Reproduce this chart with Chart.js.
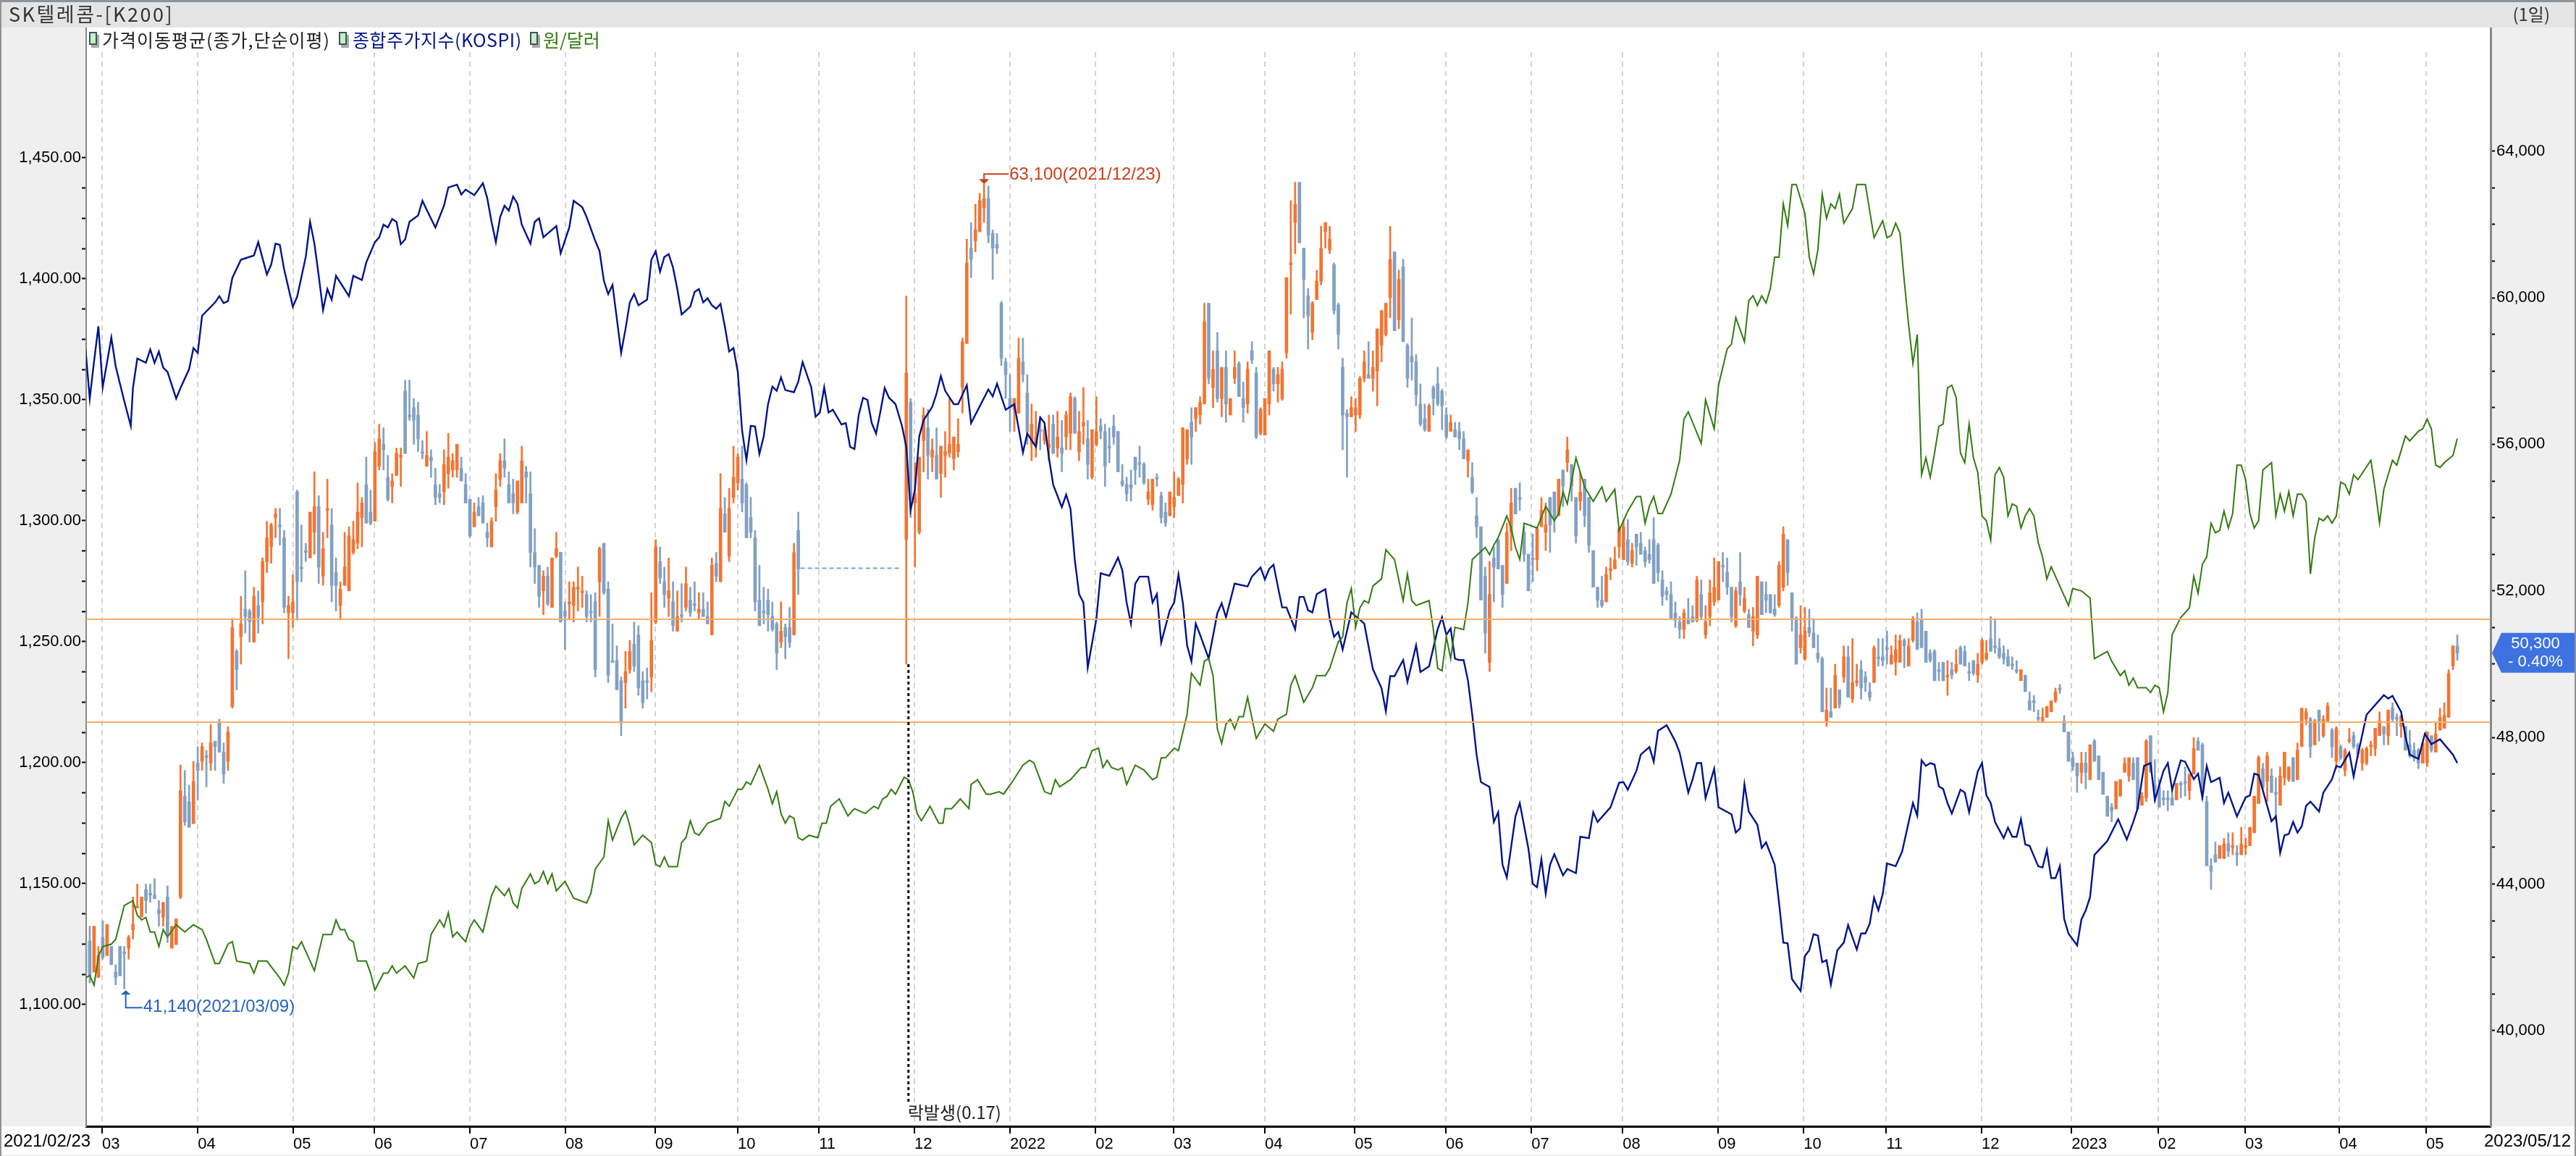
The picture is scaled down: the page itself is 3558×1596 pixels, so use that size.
<!DOCTYPE html>
<html>
<head>
<meta charset="utf-8">
<title>SK텔레콤</title>
<script src="https://cdn.jsdelivr.net/npm/chart.js@4/dist/chart.umd.js"></script>
<style>
html, body { margin: 0; background: #fff; }
canvas { display: block; }
</style>
</head>
<body>
<canvas id="chart" width="3558" height="1596"></canvas>
<script>
// month gridlines, in trading-day index
const monthTicks = [3.85,26,48.1,66.9,89,111.1,131.9,151,169.8,191.9,214,233.8,251.9,273,293.8,314.9,334.7,355.8,377.9,397.7,416.8,438.9,459.7,479.8,499.9,521.7,541.8];
const monthLabels = ["03","04","05","06","07","08","09","10","11","12","2022","02","03","04","05","06","07","08","09","10","11","12","2023","02","03","04","05"];
const firstDate = "2021/02/23";
const lastDate = "2023/05/12";
const usdTicks = [1100,1112.5,1125,1137.5,1150,1162.5,1175,1187.5,1200,1212.5,1225,1237.5,1250,1262.5,1275,1287.5,1300,1312.5,1325,1337.5,1350,1362.5,1375,1387.5,1400,1412.5,1425,1437.5,1450];
const priceTicks = [40000,41000,42000,43000,44000,45000,46000,47000,48000,49000,50000,51000,52000,53000,54000,55000,56000,57000,58000,59000,60000,61000,62000,63000,64000];

// daily candles, won, ten per row (null = trading halted)
const high = [
42450,42850,42850,42300,43000,42900,42300,41800,42300,42300,
42600,43650,44000,43650,44000,44000,44150,43550,43500,43950,
42850,43050,47250,47100,46700,47350,47750,47850,47650,48350,
47900,48500,47850,48300,51250,50400,51850,52550,51500,52100,
52000,52900,53900,53850,54250,54250,53650,51850,52450,54750,
53800,53300,54150,55250,54600,53600,55050,54250,52900,52250,
53600,53750,53900,54950,54550,55650,54750,56050,56550,56450,
55700,55200,55900,55900,57750,57750,57250,57150,56100,56350,
55850,55350,54900,55850,56300,55750,56000,55650,55200,54500,
54400,54550,54600,53850,54000,55200,55750,56150,55250,55050,
55000,55950,55400,55250,53700,52700,52550,52650,52900,53600,
53050,51700,52250,52250,52650,52400,52000,51900,51950,53200,
53300,52250,51100,50500,49650,50350,50650,51150,51050,49800,
49900,51950,53400,53200,52650,52900,52250,52000,52200,52650,
52100,52250,51950,51950,51700,52900,53050,55200,54550,54800,
55950,55750,55950,54950,54550,53650,52700,52100,52050,51700,
51150,51700,51100,51550,53300,54150,null,null,null,null,
null,null,null,null,null,null,null,null,null,null,
null,null,null,null,null,null,null,null,null,null,
60050,57250,55500,55650,57000,56950,56150,56450,55950,56350,
57250,56200,56700,58900,61600,62050,62550,62850,63100,63050,
61850,61750,59900,58350,57900,57250,58900,58900,57900,57100,
56900,56750,56500,56800,56800,56900,56650,56900,57400,57300,
56900,57550,56650,56400,57300,56700,56550,56450,56800,56350,
55450,55100,55300,55650,55950,55500,55050,55050,55200,54700,
54400,54700,55250,55100,56450,56400,57000,57000,57300,59850,
59850,58550,59050,58100,58550,57250,58550,58250,57700,58250,
58800,58100,57000,57250,58550,58100,58100,58250,60550,62650,
63150,63150,61350,60250,59900,60750,61950,62050,61950,60950,
59850,58350,56950,57300,57250,57850,58550,58800,58550,59150,
59650,59850,61950,61250,60750,61050,58750,59450,58450,57650,
57100,57100,57600,58100,57500,57000,56800,56600,56600,56350,
55850,55500,54550,53750,52650,52800,53200,53400,52700,53850,
54800,54800,54950,53750,53000,53550,53750,54550,54400,54550,
54700,55050,55300,56200,55450,54550,55250,55050,54550,53100,
52100,52400,52650,52900,53200,53750,53950,53950,53300,53550,
53600,53200,53400,54000,53300,52550,52100,52250,51700,51300,
51500,51800,51600,52400,52300,51600,52300,52900,52800,53050,
52900,52100,52100,53050,52100,51500,51550,52400,52250,52250,
51900,51900,52800,53750,53400,51950,51300,51600,51550,51500,
51250,50800,50200,49350,49350,50000,49300,50500,50500,50700,
50000,50100,49800,49500,50500,50700,50700,50900,50500,50800,
50800,50700,50700,51300,51400,51500,50900,50400,50400,50050,
50050,50100,50050,50400,50500,50500,50050,50100,50300,50700,
50650,51300,51250,50700,50500,50400,50200,50100,49850,49700,
49250,49150,48750,48800,48850,49000,49350,49450,48600,48150,
47600,47300,47600,47600,47800,47950,47500,47050,46400,46200,
46800,46850,47450,47450,47450,47450,46500,47950,48050,47400,
46850,46550,46550,46600,46750,46800,47200,47000,48000,48000,
47850,46400,44700,45150,45050,45250,45400,45400,45050,45550,
45250,45550,46400,47500,47300,47600,47150,46900,47200,47600,
47200,47450,47850,48800,48800,48550,48500,48750,48600,48950,
48250,48300,47800,47700,48250,48150,47850,47700,47750,47900,
48250,48700,48300,48750,48950,48650,48600,48300,48200,47850,
47700,47850,48150,48050,48400,48800,48950,49850,50500,50800
];
const low = [
41600,41300,41600,41450,41950,42050,41800,41250,41500,41140,
41950,42500,43350,43100,43200,43500,43600,42850,42850,42400,
42250,42350,43600,45600,45550,45650,46300,47100,46650,47100,
47100,47600,46750,47100,48800,49300,50000,50850,50600,50600,
50850,51100,52500,52750,53450,53250,51400,50150,51000,51200,
52250,52800,52900,53000,52200,52150,53450,51700,51450,51200,
52150,52000,53000,53150,53200,53850,53800,53900,55300,55300,
54450,54400,55150,54850,55750,56650,56000,55800,55600,55400,
55100,54350,54400,54350,54800,55100,55100,55000,54400,53450,
53750,54050,53850,53200,53200,53900,54850,55100,54400,54100,
54100,54400,54400,52650,52200,51550,51350,51600,51550,52900,
51150,50400,51250,51150,51450,51550,51150,51150,49650,51300,
51900,49500,50050,49300,48050,48800,49750,49800,49150,48800,
49050,49250,51100,52200,51550,51300,50900,50900,51150,51450,
51300,51450,51250,51300,51100,50800,52250,52250,53600,52800,
54400,54750,54150,53450,53450,51450,51050,51100,50900,50900,
49850,50450,50150,50450,50800,51900,null,null,null,null,
null,null,null,null,null,null,null,null,null,null,
null,null,null,null,null,null,null,null,null,null,
50000,54000,52650,53550,55250,55050,55250,55050,54550,55100,
55650,55300,55650,56850,58750,60550,61250,61800,62050,61500,
60500,61200,58150,57250,56350,56350,56850,57700,56000,55550,
55650,55850,56000,55550,55750,55650,55250,55850,55850,56300,
55550,56000,55050,55050,55950,56150,54850,55500,56000,55250,
54850,54450,54450,54900,55100,54900,54350,54200,54850,53850,
53750,54050,54000,54600,54400,55450,55450,56350,56550,57100,
57650,57000,57150,56750,56600,56800,57650,57300,56600,56850,
58200,56150,56250,56250,56800,57450,57150,57200,58350,59550,
61200,61500,59450,58600,58850,59950,60350,61350,61200,59550,
58600,55850,55100,56750,56350,56700,57700,57800,57450,57050,
58250,58950,59450,59100,59150,58800,57550,57750,57050,56500,
56350,56350,56800,57050,56400,56150,56350,56200,55850,55600,
55100,54650,53450,51750,50300,49800,51700,52600,51550,52200,
53100,54100,54200,52800,52000,52250,52550,53750,53100,53050,
53600,54050,54300,55250,54450,53300,54200,53750,53050,52100,
51550,51550,51700,52300,52600,52900,52850,52700,52650,52700,
53000,52650,52750,52200,52250,51600,51750,51250,51000,50700,
50700,51100,51150,51150,51250,50700,51050,51600,51750,52250,
51900,51150,51000,51600,51400,51000,50500,50700,51350,51400,
51400,51300,51550,52000,52150,50900,50000,50300,50100,50750,
50450,50050,48700,48300,48550,48800,48800,49500,49100,48950,
49400,49050,49250,49000,49500,49950,49950,50000,50000,49700,
50050,49900,50100,50600,50400,50450,50050,50050,49550,49550,
49550,49150,49600,49750,50000,50000,49550,49700,49500,50000,
50100,50350,50300,50150,50000,49950,49850,49750,49550,49250,
48750,48700,48450,48450,48550,48700,48950,49200,48150,47350,
47100,46500,46750,46600,46850,47350,46850,46450,45850,45700,
46050,46400,47050,46800,46850,46050,46150,46250,47050,46250,
46100,46150,46000,46150,46300,46350,46400,46300,47000,47650,
46300,44500,43850,44600,44700,44700,44750,44800,44500,44800,
44800,45050,45400,46200,46600,46250,46500,45750,46150,46700,
46800,46800,46850,47750,48350,47450,47800,47900,48000,48450,
47450,47150,47400,46950,47850,47700,47450,47100,47250,47500,
47500,48050,47800,47800,48450,48050,48000,47650,47450,47350,
47150,47300,47200,47600,47600,48200,48250,48550,49850,50100
];
const open = [
42450,42450,41600,41450,42550,42050,42300,41600,42300,42150,
42250,42750,43350,43100,43850,43750,43700,43300,43100,43650,
42250,42350,43650,46400,46250,45650,47300,47350,47500,47300,
47900,48400,47600,47350,48850,50350,50750,51500,51450,50600,
51600,51700,52800,53200,54000,53800,53450,51400,51400,54700,
52650,53100,52900,53600,54300,52400,54200,53800,52500,51600,
52150,52000,53050,53300,54000,54900,54150,53900,55400,56000,
55100,54850,55150,55650,57450,56800,57000,56800,55800,55400,
55650,54900,54650,54700,55200,55300,55300,55350,54900,54500,
53750,54300,54400,53600,53200,54300,55050,55550,54900,54650,
54150,54400,55250,54650,53050,52700,52000,52400,51550,52950,
53050,51450,51650,51600,52050,51950,51900,51450,51700,52250,
53300,52050,50100,50100,49550,49500,49850,50550,50800,49550,
49550,49650,51150,52800,52250,51800,51700,50900,51350,51550,
51750,51650,51400,51500,51300,50800,52750,52250,54100,52950,
54550,54950,55050,54900,54000,53450,51750,51450,51750,51300,
51100,50600,51000,51000,50800,53650,null,null,null,null,
null,null,null,null,null,null,null,null,null,null,
null,null,null,null,null,null,null,null,null,null,
53400,57150,54400,53600,56100,56450,55650,55700,55200,55700,
55750,55600,55800,57550,58750,61350,61550,61800,62450,62700,
61750,61450,59850,58250,57250,56950,56850,58250,57400,56000,
56000,56400,56100,55900,56550,55900,55900,56200,56300,57250,
55800,56500,56150,55100,56000,56500,56350,55950,56500,56350,
55000,54900,54900,55650,55500,55450,54500,54350,55100,54600,
54150,54050,54300,54600,54900,55600,56600,56700,56800,57100,
59850,57550,58550,57250,58100,56800,57800,58200,57250,57100,
58550,57950,56300,56250,57100,58050,57650,57250,58500,60900,
62050,63150,61350,60050,59050,59950,60450,61800,61300,60900,
59800,58100,56850,56750,56800,56800,57800,57900,57800,58000,
58700,59000,60000,61250,59400,60850,58700,58400,58250,57100,
56700,56350,57550,57650,57450,56800,56350,56400,56350,56150,
55550,55100,54050,53750,52400,50050,52900,53400,52700,52200,
53600,54800,54550,53600,53000,52900,52850,53750,53600,54550,
54700,54050,55300,55500,55450,54550,54450,55050,54550,53100,
52100,51750,51700,52550,52600,53200,52850,53400,52750,53550,
53300,53100,53000,53400,53250,52300,52000,51900,51400,51150,
50950,51250,51300,51200,51900,50800,51300,51700,51750,52700,
52500,52100,51050,52250,51450,51350,50900,50800,52250,51900,
51900,51500,51600,52100,53400,51950,51250,50450,50150,51000,
50850,50300,50150,48450,48700,48800,49300,49650,50200,49050,
49500,49850,49650,49250,49500,50200,50200,50450,50000,50050,
50050,50650,49950,50650,51150,51200,50900,50300,50350,49850,
50050,49650,49850,49800,50450,50350,49800,50100,49700,50050,
50150,50700,50500,50450,50300,50200,50000,49850,49550,49700,
49000,49000,48550,48450,48550,48700,49000,49350,48450,48150,
47450,47300,47050,47300,46850,47900,47500,47050,46400,46100,
46050,46400,47050,46950,47300,47450,46150,46350,48050,46700,
46650,46350,46350,46350,46300,46750,46800,46550,47000,47900,
47800,46250,44500,44800,44700,44700,45100,45000,44850,44800,
45000,45050,45400,46200,47150,46800,46950,46500,46150,46900,
46850,47450,46850,47750,48500,48500,47800,48750,48050,48450,
48200,47350,47750,47100,47900,48050,47800,47300,47300,47750,
47700,48050,48300,48050,48800,48550,48300,48300,47800,47650,
47650,47300,47300,48050,47600,48200,48250,48550,49950,50500
];
const close = [
41600,41500,42850,42050,42000,42900,41800,41450,41500,42100,
42550,42900,43400,43650,43550,43700,43600,43200,43500,42600,
42850,43050,46550,45700,45550,46800,47100,47750,47450,47850,
47750,47600,47000,48150,51000,49850,51100,51300,51150,51850,
51300,52800,53450,53800,54100,53750,51550,51600,51700,52250,
52600,53050,54150,54300,52650,53150,54250,52150,52150,52050,
52650,53500,53400,54150,54400,53850,53850,55800,56150,55850,
54500,55000,55750,55700,55750,56750,56650,56150,55750,55700,
55550,54550,54550,55450,55650,55550,56000,55000,54400,53500,
54150,54050,53850,53450,53900,54750,55550,55350,54400,54400,
55000,55550,55100,53050,52650,51850,52400,51650,52900,53150,
51150,51300,51700,52100,52100,52000,51300,51400,49850,53150,
51950,49700,50050,49300,48400,49800,50350,49950,49350,48950,
49500,50650,53200,52350,51900,52000,51050,51300,51300,52200,
51400,51600,51500,51300,51100,52700,52400,54250,53600,54250,
55100,55650,54400,53450,53600,51700,51050,51400,51350,50950,
50300,50900,50750,50600,53050,52600,null,null,null,null,
null,null,null,null,null,null,null,null,null,null,
null,null,null,null,null,null,null,null,null,null,
57950,54500,54650,55650,56800,55700,55850,55050,55950,55800,
56000,56200,56000,58800,60950,61050,61850,62650,62700,61700,
61350,61350,58350,57900,57000,57250,58350,57900,56350,56550,
56200,56350,56400,56000,55750,56200,55750,56800,57300,56300,
56350,56600,55450,56400,56350,56350,55400,55900,56200,55250,
54900,54650,54800,55300,55450,54950,54700,55050,55050,54000,
53850,54700,54550,55050,56450,56400,56200,57000,57150,59350,
57800,58050,57250,58100,57100,57250,58100,57300,57000,58050,
58300,56200,56950,57250,58550,57650,57900,58050,60550,60950,
62550,61500,60500,59500,59850,60450,61350,62050,61600,59650,
59000,56800,56750,57000,57000,57800,58250,57800,58100,59150,
59650,59850,61050,59100,60500,58800,57800,58250,57350,56550,
56400,57050,57250,57100,57050,56200,56600,56200,56150,55600,
55850,54700,53750,51750,50850,51900,52650,52600,51900,53600,
54400,54100,54500,53000,52000,52850,53700,54200,53800,53800,
54000,55050,54850,55850,54850,53500,54700,54050,53250,52100,
51750,51600,52450,52600,52850,53700,53750,52800,53100,53200,
53000,52800,52850,52200,52500,51850,51900,51250,51200,50950,
51400,51100,51150,52300,51300,51150,51950,52100,52800,52650,
52100,51300,52000,51900,51800,51000,51300,52400,51350,51750,
51400,51350,52700,53550,52500,51250,50000,50800,50900,50850,
50450,50150,48700,48750,48550,49700,48900,50200,49100,49500,
49550,49350,49500,49100,50450,50150,50100,50400,50250,50400,
50650,50500,50500,51250,50400,50450,50050,50100,49550,49800,
49550,49700,49700,50000,50000,49950,49750,49750,50000,50650,
50300,50350,50450,50200,50150,49950,49950,49800,49850,49250,
48750,48950,48500,48550,48850,49000,49250,49300,48150,47350,
47200,46950,47300,47050,47800,47350,46850,46450,45850,46000,
46800,46850,47300,47450,46850,46050,46400,47900,47050,46550,
46100,46300,46300,46150,46750,46700,46750,47000,47700,47650,
46500,44500,44350,44600,45050,45100,44900,45050,44800,45100,
45050,45550,46400,47450,46650,47500,46500,46450,46950,47600,
47200,46800,47650,48800,48700,47750,48450,48400,48500,48850,
47750,48250,47450,47650,47950,47750,47550,47650,47700,47800,
48250,48450,48100,48750,48500,48500,48600,47650,47500,47450,
47300,47850,48150,47650,48100,48550,48600,49750,50500,50300
];
const lowIdx = 9, lowPrice = 41140, lowText = "41,140(2021/03/09)";
const highIdx = 208, highPrice = 63100, highText = "63,100(2021/12/23)";
const lastPrice = 50300, lastChange = "- 0.40%", lastText = "50,300";
const haltDays = [165.5, 189], haltPrice = 52620;
const exIdx = 190, exLow = 50000, exText = "락발생(0.17)";
const priceLines = [51225, 48420];

const kospiDays = [0,1,2,3,4,6,7,9,10.5,11,12,14,15,16,17,18,19,21,22,24,25,26,27,30,31,32,33,34,36,39,40,42,43,44,45,46,48,49,51,52,53,54,55,56,57,58,61,62,64,65,67,68,69,70,71,72,73,74,75,77,78,79,81,83,84,86,87,88,89,90,92,93,94,95,96,97,98,99,100,101,103,104,105,106,109,110,112,113,115,116,118,119,120,121,122,123,124,125,126,127,128,130,131,132,133,134,135,136,137,138,140,141,142,143,144,145,146,147,148,149,150,151,152,153,154,155,156,157,158,159,160,161,162,164,165,166,168,169,170,171,172,173,175,176,177,178,179,180,181,182,183,184,185,186,187.5,189,190,191,192,193,194,196,197,198,199,201,202,204,205,209,210,211,213,215,217,218,220,221,222,223,224,226,227,228,229,230,231,232,234,235,237,239,240,241,242,243,244,246,247,248,249,251,252,253,254,255,256,257,258,260,262,263,264,266,269,270,272,273,274,275,276,277,278,280,281,282,283,284,285,287,288,289,290,291,293,296,298,300,301,302,303,305,306,308,309,311,313,314,315,316,317,318,319,320,321,322,323,325,326,327,328,329,331,332,334,335,336,337,338,339,340,342,343,345,346,348,349,350,353,355,356,357,359,360,362,363,364,366,368,369,371,372,373,374,375,377,378,381,382,383,384,385,387,388,389,391,392,393,394,395,397,398,399,400,401,402,403,404,405.5,407,408,410,411,412,413,414,415,416,417,419,420.5,423,424,425,426,427,428,429,430,431,432,434,435,436,438,439,440,441,442,444,445,446,447,448,449,450,452,453,454,455,456,457,458,459,461,462,463,464,465,468,470.5,472.5,474,475,476.5,478,479,481,482,483,485,486,488,489,490,491,492,494,495,496,498,500,501,502,503,505,506,507,508,509,510,511,512,513,514,515,517,518,520,521,522,524,525,526,528,532,533,534,536,537,538,540,541.5,543,545,548,549];
const kospi = [3071,2999,3052,3102,3015,3086,3045,2995,2960,3014,3056,3050,3069,3050,3066,3043,3037,2999,3014,3041,3071,3064,3117,3136,3145,3135,3138,3171,3197,3203,3222,3176,3190,3220,3218,3183,3130,3144,3201,3251,3220,3174,3125,3155,3140,3174,3145,3174,3168,3193,3222,3229,3247,3243,3255,3251,3219,3226,3251,3260,3281,3268,3243,3274,3300,3304,3290,3297,3293,3289,3306,3285,3251,3222,3258,3274,3267,3287,3277,3247,3220,3251,3256,3229,3245,3206,3243,3281,3272,3258,3224,3209,3167,3148,3161,3113,3064,3098,3136,3148,3132,3140,3197,3209,3180,3201,3205,3186,3155,3119,3130,3151,3155,3136,3142,3132,3127,3134,3102,3066,3071,3037,2953,2911,2960,2959,2920,2945,2991,3016,3010,3029,3011,3008,3023,3051,3015,2973,2979,3015,2979,2983,2962,2964,2930,2927,2976,3000,2997,2964,2949,2980,3014,3000,2991,2960,2930,2840,2869,2945,2968,2987,3006,3031,3010,2991,2991,3018,2964,3012,3002,3020,2983,2991,2922,2949,2930,2972,2964,2915,2876,2844,2862,2842,2769,2720,2708,2615,2685,2750,2746,2772,2754,2708,2678,2735,2745,2745,2708,2720,2651,2697,2708,2748,2708,2647,2624,2678,2662,2628,2693,2707,2687,2735,2731,2745,2758,2741,2756,2762,2731,2701,2701,2670,2716,2716,2697,2694,2720,2727,2685,2659,2666,2641,2694,2678,2613,2586,2553,2603,2603,2626,2595,2647,2609,2617,2670,2687,2662,2671,2628,2626,2626,2597,2548,2491,2452,2445,2395,2409,2334,2316,2403,2422,2357,2307,2302,2342,2293,2334,2349,2319,2328,2322,2374,2372,2409,2395,2416,2451,2452,2441,2468,2491,2502,2481,2525,2533,2510,2494,2437,2456,2479,2479,2429,2471,2416,2406,2380,2386,2449,2410,2391,2358,2366,2334,2280,2223,2222,2171,2154,2204,2212,2235,2233,2195,2198,2163,2212,2223,2248,2213,2236,2236,2250,2287,2269,2292,2336,2332,2353,2422,2404,2483,2475,2479,2477,2446,2442,2422,2407,2441,2437,2409,2467,2479,2433,2422,2395,2372,2387,2374,2374,2399,2363,2361,2332,2330,2355,2315,2315,2332,2257,2236,2219,2256,2269,2288,2348,2368,2399,2370,2395,2414,2475,2479,2426,2468,2479,2441,2483,2481,2456,2464,2430,2475,2452,2458,2422,2437,2403,2430,2433,2464,2462,2418,2396,2403,2351,2376,2378,2395,2380,2389,2418,2424,2410,2437,2456,2475,2473,2494,2460,2491,2548,2576,2571,2575,2552,2517,2491,2485,2521,2506,2513,2491,2479];

const usdDays = [0,1,2,3,4,6,7,9,11,12,13,14,15,16,17,18,19,21,23,25,27,28,30,31,33,34,35,38,39,40,42,45,46,47,48,49,50,53,55,57,58,59,60,61,62,63,65,66,67,69,70,71,72,74,76,77,79,80,82,83,84,85,86,88,89,90,92,94,95,97,98,99,100,101,103,104,105,106,107,108,109,111,113,116,117,118,120,121,122,124,125,126,127,129,131,132,133,134,135,137,138,139,140,141,142,144,147,148,149,151,152,153,154,156,158,159,160,161,162,163,164,165,166,167.5,169.5,170.5,171.5,172.5,174.5,176.5,178,180.5,182.5,183.5,184.5,185.5,186.5,187.5,189.5,190.5,191.5,192.5,193.5,195.5,197.5,198.5,199,200.5,202.5,204.5,205,206.5,208.5,209.5,211.5,212.5,214.5,217,218.5,219.5,221,222,223.5,224.5,225.5,228,230.5,231.5,233,234.5,235.5,236.5,237.5,239,240,241,243,245,247,248,249,250,252,253,255,256,258,259,260,261,262,263,264,265,266,267,268,269,271,273,275,276,278,279,280,282,284,285,287,288,290,291,292,293,294,295,296,297,298,300,301,303,305,306,307,308,311,312,313,314,315,316,317,319,320,321,324,325,326,327,329,330,331,332,333,336,338,340,341,342,343,345,347,349,351,352,354,355,357,359,360,361,362,363,364,365,367,369,370,371,374,375,377,378,380,381,382,384,385,386,387,388,389,390,391,392,393,394,395,396,398,399,400,401,402,403,404,405,406,407,409,410,412,414,416,417,418,419,420,421,422,423,424,425,426,427,428,429,430,431,432,433,434,435,436,437,438,439,440,441,442,443,444,445,446,447,448,449,450,451,452,453,454,455,459,460,462,464,465,468,469,471,472,473,474,475,477,478,479,480,481,482,483,485,487,488,489,490,491,492,493,494,495,496,497,498,499,500,501,502,503,504,506,507,508,509,510,511,512,513,514,515,516,517,518,519,520,521,522,523,524,525,526,529,530,531,532,534,535,537,538,540,541,542,543,544,545,546,548,549];
const usd = [1111,1112,1108,1120,1124,1125,1127,1141,1143,1137,1135,1136,1130,1130,1124,1131,1128,1133,1130,1133,1131,1127,1117,1117,1125,1126,1118,1117,1113,1118,1118,1111,1108,1113,1124,1123,1126,1114,1129,1129,1135,1131,1131,1127,1126,1118,1118,1113,1106,1113,1113,1116,1113,1116,1111,1117,1118,1129,1135,1132,1138,1128,1130,1126,1132,1135,1130,1145,1149,1145,1148,1142,1140,1148,1154,1150,1151,1155,1150,1154,1147,1151,1144,1142,1146,1156,1161,1176,1168,1177,1180,1174,1166,1170,1167,1158,1157,1161,1157,1157,1167,1169,1176,1171,1170,1175,1177,1184,1182,1189,1189,1192,1191,1199,1189,1183,1188,1179,1175,1178,1177,1169,1168,1170,1169,1175,1175,1182,1185,1178,1181,1179,1182,1181,1185,1186,1189,1187,1194,1193,1188,1179,1176,1182,1175,1175,1181,1181,1185,1181,1191,1193,1187,1187,1188,1187,1192,1199,1201,1200,1193,1188,1187,1193,1190,1193,1198,1198,1205,1206,1198,1201,1198,1197,1198,1191,1199,1197,1193,1194,1202,1202,1206,1205,1220,1237,1232,1242,1243,1236,1214,1208,1216,1218,1214,1219,1219,1227,1210,1216,1213,1218,1220,1232,1236,1225,1231,1236,1236,1239,1250,1252,1266,1272,1256,1264,1267,1266,1273,1276,1288,1284,1267,1278,1267,1265,1267,1255,1239,1238,1252,1243,1256,1255,1266,1284,1289,1286,1290,1293,1302,1297,1289,1284,1299,1297,1306,1300,1303,1312,1307,1326,1314,1308,1314,1308,1313,1296,1304,1310,1310,1299,1306,1310,1303,1303,1311,1325,1342,1345,1332,1350,1338,1356,1371,1373,1384,1374,1391,1393,1389,1393,1390,1396,1409,1409,1431,1422,1439,1439,1427,1409,1402,1412,1435,1425,1431,1429,1435,1423,1429,1439,1439,1417,1424,1417,1418,1423,1419,1399,1381,1365,1377,1319,1326,1318,1328,1339,1340,1355,1356,1351,1328,1324,1340,1326,1320,1302,1300,1292,1319,1322,1318,1302,1307,1306,1297,1302,1305,1302,1291,1285,1276,1281,1265,1272,1271,1268,1243,1246,1242,1236,1238,1232,1235,1231,1231,1229,1232,1231,1221,1229,1253,1260,1264,1277,1270,1282,1285,1299,1295,1296,1304,1297,1303,1323,1323,1317,1303,1297,1300,1321,1324,1302,1311,1304,1312,1302,1311,1311,1308,1278,1293,1301,1300,1302,1299,1302,1316,1315,1311,1319,1317,1325,1313,1299,1313,1325,1323,1335,1333,1337,1338,1342,1338,1323,1322,1324,1327,1334];

const upColor = "#f27533";
const downColor = "#82a0c3";
const bars = high.map((h, i) => i).filter(i => high[i] !== null);

const toPoints = (days, vals) => days.map((d, i) => ({ x: d, y: vals[i] }));
const isUp = ctx => ctx.raw && close[ctx.raw.x] >= open[ctx.raw.x];

const labelFont = { family: "Liberation Sans", size: 22 };
const xMin = 0.168, xMax = 556.7;

// panels, title, legend and the price annotations
const framePlugin = {
    id: "frame",
    beforeDraw(chart) {
        const ctx = chart.ctx;
        const a = chart.chartArea;
        ctx.save();
        ctx.fillStyle = "#fff";
        ctx.fillRect(0, 0, 3558, 1596);
        ctx.fillStyle = "#e4e4e4";
        ctx.fillRect(0, 3, 3558, 35);
        ctx.fillStyle = "#efefef";
        ctx.fillRect(2, 38, a.left - 2, a.bottom - 38);
        ctx.fillRect(a.right, 38, 3556 - a.right, a.bottom - 38);
        ctx.fillStyle = "#8b939b";
        ctx.fillRect(0, 0, 3558, 3);
        ctx.fillRect(0, 0, 2, 1596);
        ctx.fillRect(3556, 0, 2, 1596);
        ctx.fillStyle = "#888";
        ctx.fillRect(a.left - 1, 38, 2, a.top - 38);
        ctx.fillRect(a.right - 1, 38, 3, a.top - 38);
        ctx.fillStyle = "#eee";
        ctx.fillRect(2, 1594, 3554, 2);
        ctx.restore();
    },
    afterDraw(chart) {
        const ctx = chart.ctx;
        const x = chart.scales.x, y = chart.scales.yPrice;
        const a = chart.chartArea;
        const cjk = "Noto Sans CJK KR";
        const latin = "Liberation Sans";
        ctx.save();
        ctx.textBaseline = "middle";
        ctx.textAlign = "left";

        ctx.fillStyle = "#333";
        ctx.font = "27px '" + cjk + "'";
        ctx.letterSpacing = "2.5px";
        ctx.fillText("SK텔레콤-[K200]", 12, 20);
        ctx.letterSpacing = "0px";
        ctx.textAlign = "right";
        ctx.font = "24px '" + cjk + "'";
        ctx.fillText("(1일)", 3522, 20);
        ctx.textAlign = "left";

        [[123, "가격이동평균(종가,단순이평)", "#222", 141, "1px"], [468, "종합주가지수(KOSPI)", "#001489", 487, "0.5px"], [732, "원/달러", "#327a10", 750, "0px"]].forEach(([ix, t, c, tx, sp]) => {
            ctx.fillStyle = "#aaa";
            ctx.fillRect(ix + 3, 48, 11, 18);
            ctx.fillStyle = "#3a5560";
            ctx.fillRect(ix, 44, 11, 18);
            ctx.fillStyle = "#c8f0c0";
            ctx.fillRect(ix + 2, 46, 7, 14);
            ctx.fillStyle = c;
            ctx.font = "25px '" + cjk + "'";
            ctx.letterSpacing = sp;
            ctx.fillText(t, tx, 55);
        });
        ctx.letterSpacing = "0px";

        ctx.fillStyle = "#000";
        ctx.font = "24px '" + latin + "'";
        ctx.fillText(firstDate, 5, 1576);
        ctx.fillText(lastDate, 3431, 1576);

        // ex-rights marker
        const ex = x.getPixelForValue(exIdx);
        ctx.strokeStyle = "#000";
        ctx.lineWidth = 3;
        ctx.setLineDash([4, 4]);
        ctx.beginPath();
        ctx.moveTo(ex + 3, y.getPixelForValue(exLow));
        ctx.lineTo(ex + 3, 1522);
        ctx.stroke();
        ctx.setLineDash([]);
        ctx.fillStyle = "#222";
        ctx.font = "24px '" + cjk + "'";
        ctx.fillText(exText, ex + 2, 1536);

        // high
        const hx = x.getPixelForValue(highIdx);
        const hy = y.getPixelForValue(highPrice);
        ctx.strokeStyle = ctx.fillStyle = "#c8401a";
        ctx.lineWidth = 2;
        ctx.beginPath();
        ctx.moveTo(hx, hy - 7);
        ctx.lineTo(hx, hy - 14);
        ctx.lineTo(hx + 34, hy - 14);
        ctx.stroke();
        ctx.beginPath();
        ctx.moveTo(hx - 7, hy - 7);
        ctx.lineTo(hx + 7, hy - 7);
        ctx.lineTo(hx, hy);
        ctx.fill();
        ctx.font = "24px '" + latin + "'";
        ctx.fillText(highText, hx + 35, hy - 13);

        // low
        const lx = x.getPixelForValue(lowIdx);
        const ly = y.getPixelForValue(lowPrice);
        ctx.strokeStyle = ctx.fillStyle = "#2563c0";
        ctx.beginPath();
        ctx.moveTo(lx + 2, ly + 8);
        ctx.lineTo(lx + 2, ly + 26);
        ctx.lineTo(lx + 25, ly + 26);
        ctx.stroke();
        ctx.beginPath();
        ctx.moveTo(lx - 5, ly + 8);
        ctx.lineTo(lx + 9, ly + 8);
        ctx.lineTo(lx + 2, ly + 2);
        ctx.fill();
        ctx.fillText(lowText, lx + 26, ly + 25);

        // last price tag
        const ty = y.getPixelForValue(lastPrice);
        ctx.fillStyle = "#3d72e0";
        ctx.beginPath();
        ctx.moveTo(a.right + 2, ty);
        ctx.lineTo(a.right + 15, ty - 28);
        ctx.lineTo(3556, ty - 28);
        ctx.lineTo(3556, ty + 27);
        ctx.lineTo(a.right + 15, ty + 27);
        ctx.fill();
        ctx.fillStyle = "#fff";
        ctx.textAlign = "center";
        ctx.font = "22px '" + latin + "'";
        ctx.fillText(lastText, 3502, ty - 13);
        ctx.fillText(lastChange, 3502, ty + 12);
        ctx.restore();
    }
};

new Chart(document.getElementById("chart"), {
    data: {
        datasets: [
            ...priceLines.map(p => ({
                type: "line", yAxisID: "yPrice", order: 0,
                data: [{ x: xMin, y: p }, { x: xMax, y: p }],
                borderColor: "#f5ae66", borderWidth: 2, pointRadius: 0
            })),
            { type: "line", yAxisID: "yUsd", order: 1, data: toPoints(usdDays, usd), borderColor: "#327a10", borderWidth: 2, pointRadius: 0, tension: 0 },
            { type: "line", yAxisID: "yKospi", order: 2, data: toPoints(kospiDays, kospi), borderColor: "#001489", borderWidth: 2.4, pointRadius: 0, tension: 0 },
            {
                type: "line", yAxisID: "yPrice", order: 3,
                data: haltDays.map(d => ({ x: d, y: haltPrice })),
                borderColor: downColor, borderWidth: 2, borderDash: [6, 4], pointRadius: 0
            },
            {
                type: "bar", yAxisID: "yPrice", order: 4, grouped: false,
                data: bars.map(i => ({ x: i, y: [open[i], close[i]] })),
                backgroundColor: ctx => isUp(ctx) ? upColor : downColor,
                barThickness: 4, minBarLength: 2, borderWidth: 0
            },
            {
                type: "bar", yAxisID: "yPrice", order: 5, grouped: false,
                data: bars.map(i => ({ x: i, y: [low[i], high[i]] })),
                backgroundColor: ctx => isUp(ctx) ? upColor : downColor,
                barThickness: 2, borderWidth: 0
            }
        ]
    },
    options: {
        responsive: false,
        devicePixelRatio: 1,
        animation: false,
        layout: { padding: { top: 72 } },
        plugins: { legend: { display: false }, tooltip: { enabled: false } },
        scales: {
            x: {
                type: "linear", min: xMin, max: xMax, offset: false,
                afterFit: s => { s.height = 41; },
                afterBuildTicks: s => { s.ticks = monthTicks.map(v => ({ value: v })); },
                ticks: {
                    autoSkip: false, maxRotation: 0, align: "start", padding: 2, color: "#000", font: labelFont,
                    callback: v => monthLabels[monthTicks.indexOf(v)]
                },
                grid: { offset: false, color: "#d2d2d2", lineWidth: 2, tickLength: 10, tickColor: "#000", tickWidth: 2 },
                border: { color: "#000", width: 3, dash: [7, 6] }
            },
            yUsd: {
                position: "left", min: 1049.7, max: 1493.7,
                afterFit: s => { s.width = 119; },
                afterBuildTicks: s => { s.ticks = usdTicks.map(v => ({ value: v })); },
                ticks: {
                    autoSkip: false, padding: 1, color: "#000", font: labelFont,
                    callback: v => v % 50 === 0 ? v.toLocaleString("en-US", { minimumFractionDigits: 2 }) : ""
                },
                grid: { drawOnChartArea: false, tickLength: 6, tickColor: "#000", tickWidth: 2 },
                border: { color: "#888", width: 2 }
            },
            yPrice: {
                position: "right", min: 37391, max: 66700,
                afterFit: s => { s.width = 118; },
                afterBuildTicks: s => { s.ticks = priceTicks.map(v => ({ value: v })); },
                ticks: {
                    autoSkip: false, padding: 2, color: "#000", font: labelFont,
                    callback: v => v % 4000 === 0 ? v.toLocaleString("en-US") : ""
                },
                grid: { drawOnChartArea: false, tickLength: 6, tickColor: "#000", tickWidth: 2 },
                border: { color: "#888", width: 3 }
            },
            yKospi: { display: false, min: 1961, max: 3493 }
        }
    },
    plugins: [framePlugin]
});
</script>
</body>
</html>
